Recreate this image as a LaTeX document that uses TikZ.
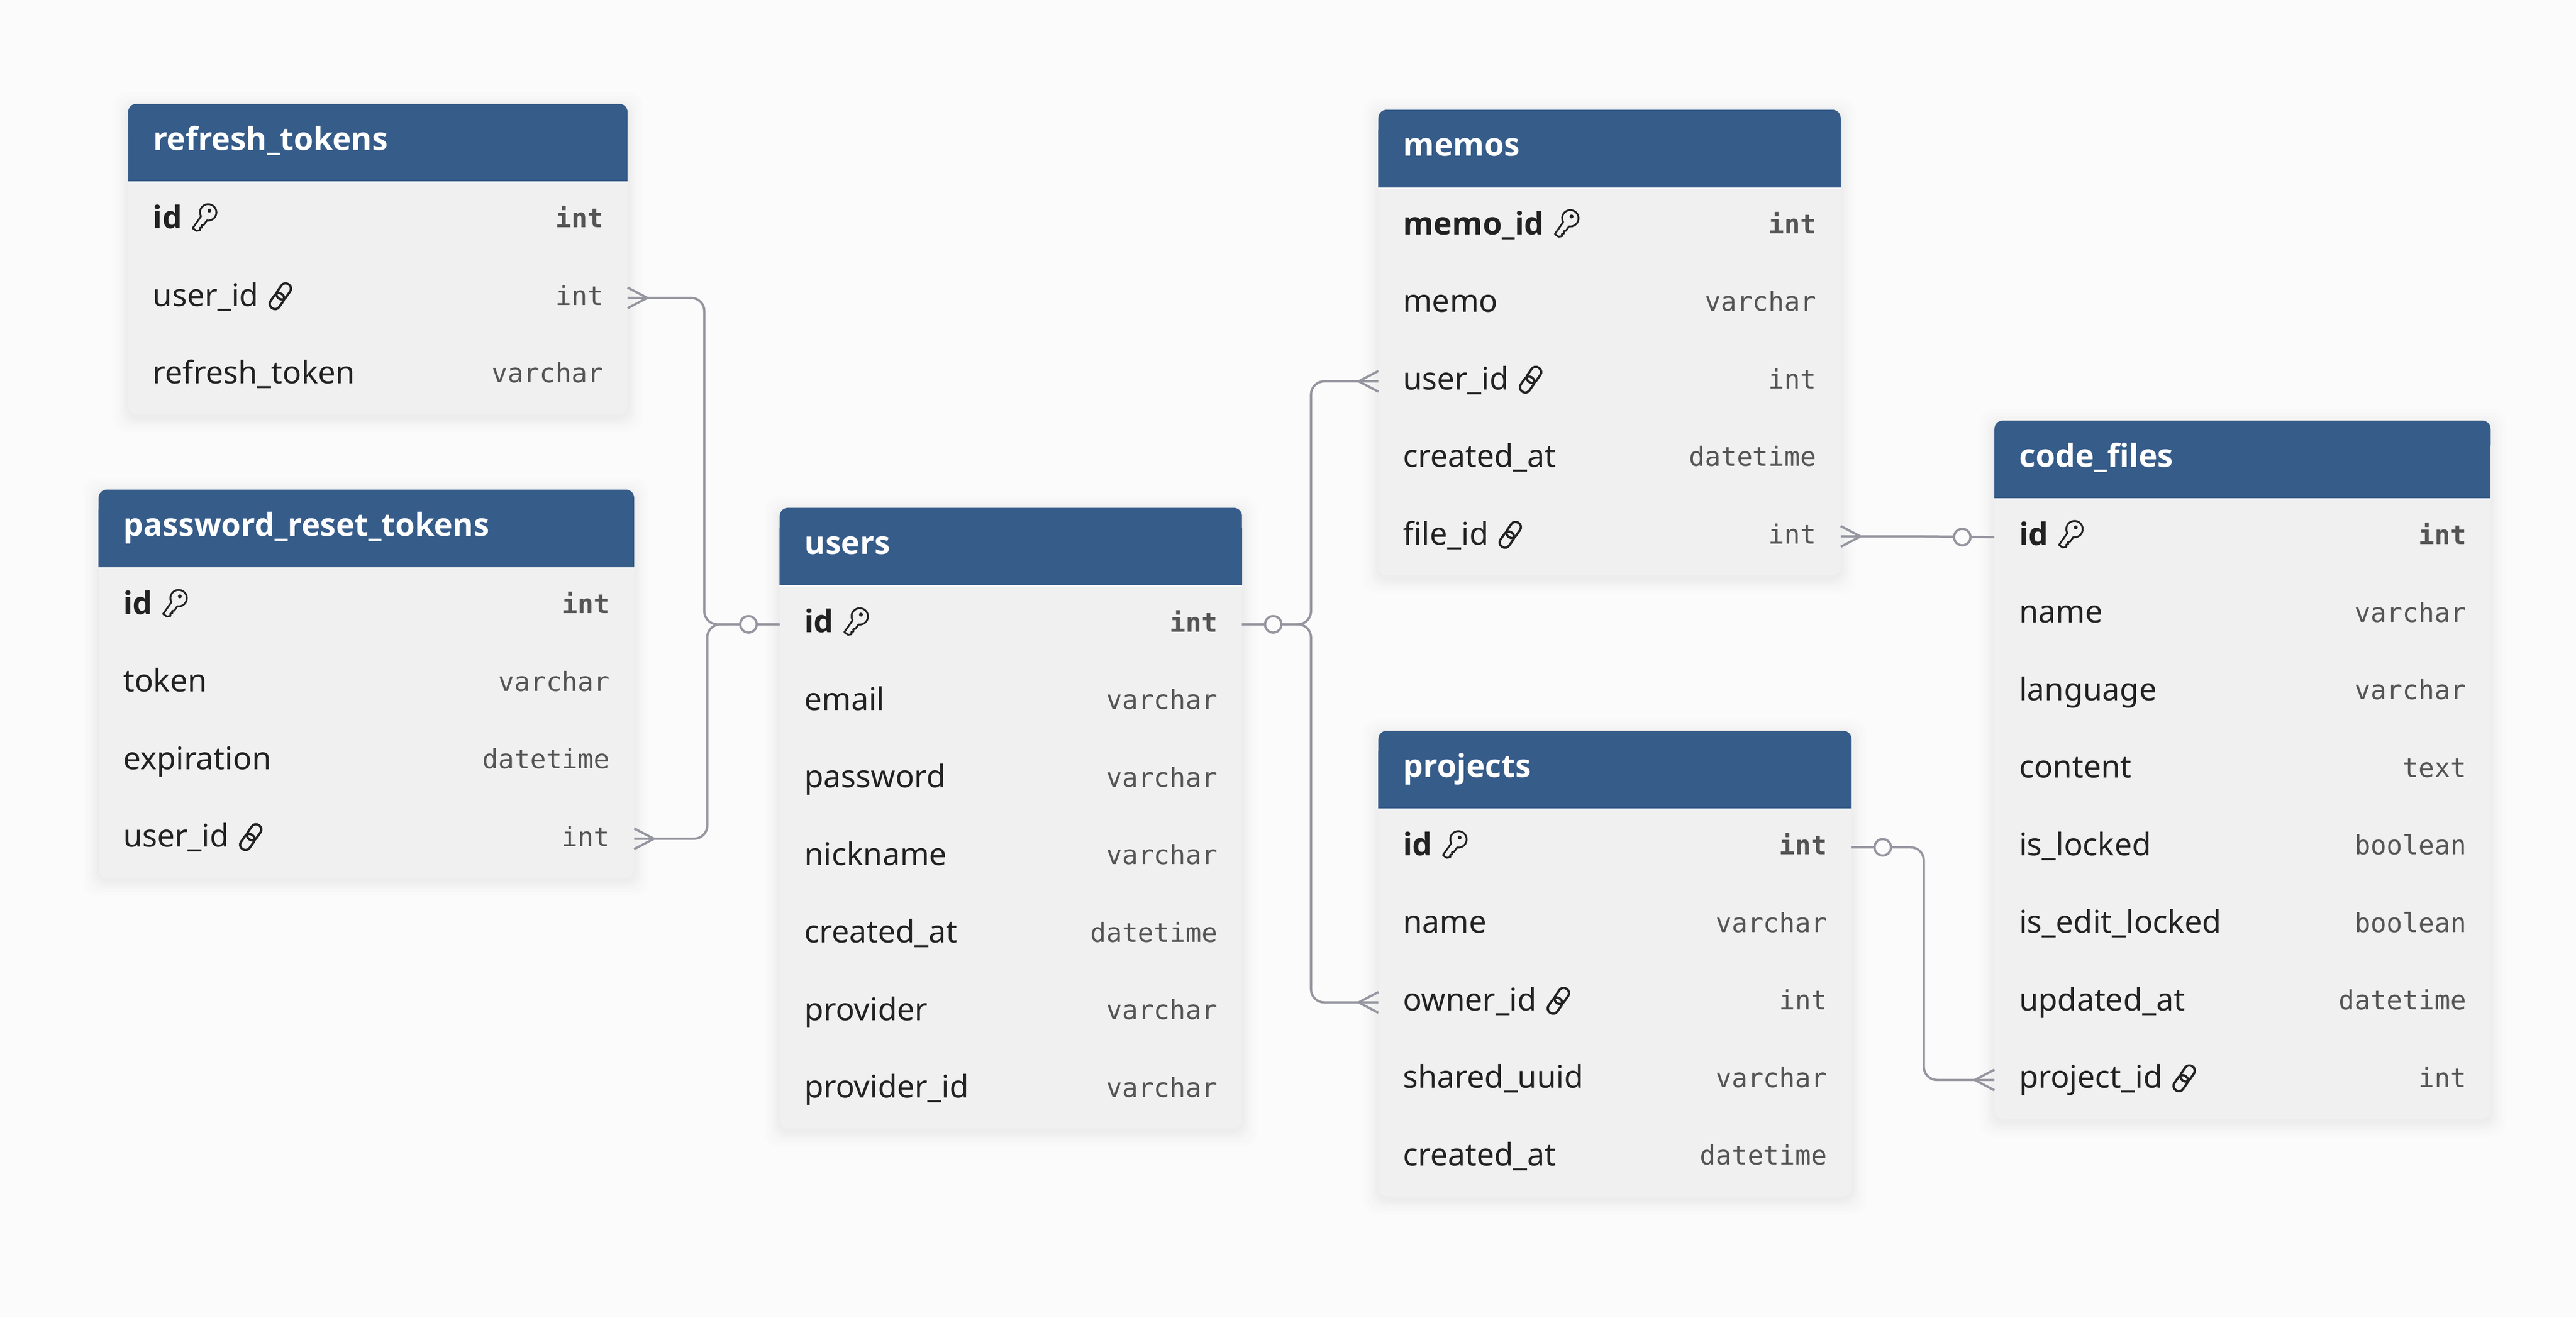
\documentclass[tikz,border=0pt]{standalone}
\usepackage{fontspec}
\setmainfont{Noto Sans}
\newfontfamily\monof{DejaVu Sans Mono}
\newfontfamily\boldf{Open Sans}[UprightFont=* Bold]
\usetikzlibrary{calc}
\definecolor{bgc}{HTML}{FBFBFB}
\definecolor{headc}{HTML}{365C8A}
\definecolor{bodyc}{HTML}{F0F0F0}
\definecolor{namec}{HTML}{222222}
\definecolor{typec}{HTML}{555555}
\definecolor{linec}{HTML}{95969F}
\tikzset{
  rowbox/.style={inner sep=0pt,minimum height=47.2pt,outer sep=0pt},
  fieldtxt/.style={anchor=base west,inner sep=0pt,text=namec,font=\fontsize{19}{20}\selectfont},
  typetxt/.style={anchor=base east,inner sep=0pt,text=typec,font=\monof\fontsize{16.1}{20}\selectfont},
  titletxt/.style={anchor=base west,inner sep=0pt,text=white,font=\boldf\fontsize{19.3}{20}\selectfont},
  conn/.style={draw=linec,line width=1.4pt,line join=round},
  zero/.style={circle,draw=linec,line width=1.4pt,fill=bgc,minimum size=10pt,inner sep=0pt},
  keyicon/.pic={
    \begin{scope}[y=1pt,x=1pt,rotate=-35]
      \draw[namec,line width=1.1pt,line join=round]
        (2.2,0.2) arc[start angle=-64,end angle=244,radius=5]
        -- (-2.2,-8.6) -- (0.6,-8.6) -- (2.2,-7) -- (1.2,-6) -- (2.2,-5) -- (1.2,-4) -- (2.2,-3) -- cycle;
      \fill[namec] (0,6) circle[radius=1.2];
    \end{scope}},
  linkicon/.pic={
    \begin{scope}[y=1pt,x=1pt,rotate=55]
      \draw[namec,line width=1.4pt,rounded corners=3pt] (-8.8,-3.2) rectangle (1.6,3.2);
      \draw[namec,line width=1.4pt,rounded corners=3pt] (-1.6,-3.2) rectangle (8.8,3.2);
    \end{scope}}
}
\newcommand{\etable}[6]{% name, x, top, width, nrows, title
  \def\tx{#2}\def\ty{#3}\def\tw{#4}%
  \pgfmathsetmacro{\tbot}{#3+47.3+47.2*#5}%
  \pgfmathsetmacro{\thb}{#3+47.3}%
  \foreach \s in {1,2,3,4,5,7,9}{
    \fill[black,opacity=0.006,rounded corners=8pt]
      (#2-\s,#3+2-\s) rectangle (#2+#4+\s,\tbot+2+\s);
  }
  \fill[bodyc,rounded corners=5pt] (#2,#3+10) rectangle (#2+#4,\tbot);
  \fill[headc,rounded corners=5pt] (#2,#3+20) -- (#2,#3) -- (#2+#4,#3) -- (#2+#4,#3+20) -- cycle;
  \fill[headc] (#2,#3+12) rectangle (#2+#4,\thb);
  \fill[white,opacity=0.6] (#2,\thb) rectangle (#2+#4,\thb+0.8);
  \node[titletxt] (#1-title) at (#2+15,#3+28.2) {#6};
}
\newcommand{\erowbase}[6]{% name, k, field text, type text, type-style, field-style
  \pgfmathsetmacro{\ry}{\ty+47.3+23.6+47.2*(#2-1)}%
  \pgfmathsetmacro{\rx}{\tx+\tw/2}%
  \node[rowbox,minimum width=\tw pt] (#1) at (\rx,\ry) {};
  \node[fieldtxt] (#1-f) at (\tx+14.8,\ry+5) {#6#3};
  \node[typetxt] (#1-t) at (\tx+\tw-14.6,\ry+4.5) {#5#4};
}
\newcommand{\efield}[4]{\erowbase{#1}{#2}{#3}{#4}{}{}}
\newcommand{\ekey}[4]{\erowbase{#1}{#2}{#3}{#4}{\bfseries}{\boldf}
  \path ([xshift=13pt,yshift=1pt]#1-f.east |- #1.center) pic {keyicon};}
\newcommand{\elink}[4]{\erowbase{#1}{#2}{#3}{#4}{}{}
  \path ([xshift=13pt,yshift=1pt]#1-f.east |- #1.center) pic {linkicon};}
\newcommand{\crowR}[1]{\draw[conn] ([yshift=6.3pt]#1.east) -- ([xshift=12pt]#1.east) -- ([yshift=-6.3pt]#1.east);}
\newcommand{\crowL}[1]{\draw[conn] ([yshift=6.3pt]#1.west) -- ([xshift=-12pt]#1.west) -- ([yshift=-6.3pt]#1.west);}
\begin{document}
\begin{tikzpicture}[x=1pt,y=-1pt]
\useasboundingbox (0,0) rectangle (1568,801.96);
\fill[bgc] (0,0) rectangle (1568,801.96);

\etable{rt}{78}{63.2}{304}{3}{refresh\_tokens}
\ekey{rt-id}{1}{id}{int}
\elink{rt-user}{2}{user\_id}{int}
\efield{rt-token}{3}{refresh\_token}{varchar}

\etable{pr}{60}{298}{326}{4}{password\_reset\_tokens}
\ekey{pr-id}{1}{id}{int}
\efield{pr-token}{2}{token}{varchar}
\efield{pr-exp}{3}{expiration}{datetime}
\elink{pr-user}{4}{user\_id}{int}

\etable{us}{474.6}{309.1}{281.4}{7}{users}
\ekey{us-id}{1}{id}{int}
\efield{us-email}{2}{email}{varchar}
\efield{us-pass}{3}{password}{varchar}
\efield{us-nick}{4}{nickname}{varchar}
\efield{us-created}{5}{created\_at}{datetime}
\efield{us-prov}{6}{provider}{varchar}
\efield{us-provid}{7}{provider\_id}{varchar}

\etable{me}{839}{66.8}{281.4}{5}{memos}
\ekey{me-id}{1}{memo\_id}{int}
\efield{me-memo}{2}{memo}{varchar}
\elink{me-user}{3}{user\_id}{int}
\efield{me-created}{4}{created\_at}{datetime}
\elink{me-file}{5}{file\_id}{int}

\etable{pj}{839}{444.8}{288}{5}{projects}
\ekey{pj-id}{1}{id}{int}
\efield{pj-name}{2}{name}{varchar}
\elink{pj-owner}{3}{owner\_id}{int}
\efield{pj-uuid}{4}{shared\_uuid}{varchar}
\efield{pj-created}{5}{created\_at}{datetime}

\etable{cf}{1214}{256}{302}{8}{code\_files}
\ekey{cf-id}{1}{id}{int}
\efield{cf-name}{2}{name}{varchar}
\efield{cf-lang}{3}{language}{varchar}
\efield{cf-content}{4}{content}{text}
\efield{cf-locked}{5}{is\_locked}{boolean}
\efield{cf-edit}{6}{is\_edit\_locked}{boolean}
\efield{cf-updated}{7}{updated\_at}{datetime}
\elink{cf-proj}{8}{project\_id}{int}

% connectors
\coordinate (jA) at (428.7,280);
\coordinate (jB) at (430.5,450);
\coordinate (jC) at (798,300);
\coordinate (jD) at (798,500);
\coordinate (jE) at (1171,590);
\coordinate (jF) at (1167.5,326.5);

\draw[conn,rounded corners=8pt] (rt-user.east) -| (jA) |- (us-id.west);
\draw[conn,rounded corners=8pt] (pr-user.east) -| (jB) |- (us-id.west);
\draw[conn,rounded corners=8pt] (us-id.east) -| (jC) |- (me-user.west);
\draw[conn,rounded corners=8pt] (us-id.east) -| (jD) |- (pj-owner.west);
\draw[conn] (me-file.east) -- (jF) -- (cf-id.west);
\draw[conn,rounded corners=8pt] (pj-id.east) -| (jE) |- (cf-proj.west);

\crowR{rt-user}
\crowR{pr-user}
\crowL{me-user}
\crowL{pj-owner}
\crowR{me-file}
\crowL{cf-proj}

\node[zero] (z1) at ($(us-id.west)+(-19,0)$) {};
\node[zero] (z2) at ($(us-id.east)+(19,0)$) {};
\node[zero] (z3) at ($(cf-id.west)+(-19.6,0)$) {};
\node[zero] (z4) at ($(pj-id.east)+(19,0)$) {};
\end{tikzpicture}
\end{document}
